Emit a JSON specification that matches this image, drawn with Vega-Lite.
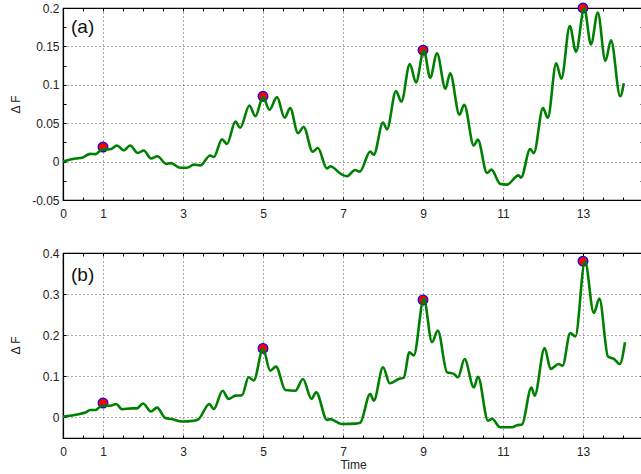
{
  "$schema": "https://vega.github.io/schema/vega-lite/v6.json",
  "padding": {"left": 8, "top": 0, "right": 0, "bottom": 0},
  "spacing": 26,
  "config": {
    "font": "Liberation Sans",
    "view": {"stroke": "#000", "strokeWidth": 1.2},
    "axis": {
      "labelFont": "Liberation Sans",
      "labelFontSize": 12,
      "labelColor": "#222",
      "titleFont": "Liberation Sans",
      "titleFontSize": 12,
      "titleFontWeight": "normal",
      "titleColor": "#222",
      "domainColor": "#000",
      "domainWidth": 1.2,
      "tickColor": "#000",
      "tickSize": -3,
      "tickWidth": 1,
      "gridWidth": 1,
      "gridDash": [1, 3]
    }
  },
  "datasets": {
    "a_line": [
      {"t": 0, "v": 0}, {"t": 0.31, "v": 0.004}, {"t": 0.475, "v": 0.005}, {"t": 0.68, "v": 0.01}, {"t": 0.81, "v": 0.0097},
      {"t": 0.975, "v": 0.0156}, {"t": 1.18, "v": 0.016}, {"t": 1.35, "v": 0.021}, {"t": 1.52, "v": 0.0145}, {"t": 1.68, "v": 0.021},
      {"t": 1.87, "v": 0.0112}, {"t": 2.02, "v": 0.0145}, {"t": 2.2, "v": 0.004}, {"t": 2.36, "v": 0.007}, {"t": 2.58, "v": -0.003},
      {"t": 2.7, "v": -0.002}, {"t": 2.93, "v": -0.008}, {"t": 3.1, "v": -0.008}, {"t": 3.27, "v": -0.004}, {"t": 3.43, "v": -0.005},
      {"t": 3.68, "v": 0.008}, {"t": 3.77, "v": 0.006}, {"t": 3.975, "v": 0.029}, {"t": 4.1, "v": 0.023}, {"t": 4.31, "v": 0.052},
      {"t": 4.43, "v": 0.044}, {"t": 4.66, "v": 0.073}, {"t": 4.81, "v": 0.059}, {"t": 5.0, "v": 0.084}, {"t": 5.16, "v": 0.0675},
      {"t": 5.35, "v": 0.084}, {"t": 5.54, "v": 0.057}, {"t": 5.68, "v": 0.0696}, {"t": 5.875, "v": 0.037}, {"t": 6.017, "v": 0.045},
      {"t": 6.24, "v": 0.013}, {"t": 6.37, "v": 0.0177}, {"t": 6.6, "v": -0.009}, {"t": 6.68, "v": -0.006}, {"t": 6.975, "v": -0.017},
      {"t": 7.1, "v": -0.019}, {"t": 7.3, "v": -0.011}, {"t": 7.42, "v": -0.013}, {"t": 7.68, "v": 0.013}, {"t": 7.77, "v": 0.009},
      {"t": 8.0, "v": 0.051}, {"t": 8.1, "v": 0.042}, {"t": 8.325, "v": 0.092}, {"t": 8.46, "v": 0.078}, {"t": 8.67, "v": 0.127},
      {"t": 8.825, "v": 0.103}, {"t": 9.02, "v": 0.145}, {"t": 9.18, "v": 0.109}, {"t": 9.35, "v": 0.141}, {"t": 9.56, "v": 0.095},
      {"t": 9.68, "v": 0.115}, {"t": 9.91, "v": 0.061}, {"t": 10.03, "v": 0.074}, {"t": 10.27, "v": 0.021}, {"t": 10.37, "v": 0.0286},
      {"t": 10.6, "v": -0.0148}, {"t": 10.71, "v": -0.0104}, {"t": 10.93, "v": -0.029}, {"t": 11.1, "v": -0.03}, {"t": 11.39, "v": -0.018},
      {"t": 11.45, "v": -0.021}, {"t": 11.68, "v": 0.0164}, {"t": 11.77, "v": 0.011}, {"t": 12.0, "v": 0.0696}, {"t": 12.12, "v": 0.057},
      {"t": 12.33, "v": 0.128}, {"t": 12.46, "v": 0.108}, {"t": 12.67, "v": 0.1766}, {"t": 12.825, "v": 0.143}, {"t": 13.03, "v": 0.1995},
      {"t": 13.2, "v": 0.1527}, {"t": 13.37, "v": 0.194}, {"t": 13.56, "v": 0.131}, {"t": 13.7, "v": 0.158}, {"t": 13.93, "v": 0.085},
      {"t": 14.02, "v": 0.102}
    ],
    "b_line": [
      {"t": 0, "v": 0.002}, {"t": 0.39, "v": 0.008}, {"t": 0.56, "v": 0.012}, {"t": 0.68, "v": 0.018}, {"t": 0.81, "v": 0.018},
      {"t": 0.975, "v": 0.0285}, {"t": 1.18, "v": 0.0285}, {"t": 1.33, "v": 0.0326}, {"t": 1.475, "v": 0.02}, {"t": 1.725, "v": 0.022},
      {"t": 1.85, "v": 0.022}, {"t": 2.0, "v": 0.034}, {"t": 2.2, "v": 0.0146}, {"t": 2.35, "v": 0.024}, {"t": 2.56, "v": -0.0015},
      {"t": 2.725, "v": -0.004}, {"t": 2.975, "v": -0.01}, {"t": 3.27, "v": -0.008}, {"t": 3.39, "v": -0.004}, {"t": 3.66, "v": 0.0326},
      {"t": 3.77, "v": 0.0204}, {"t": 3.99, "v": 0.065}, {"t": 4.14, "v": 0.045}, {"t": 4.31, "v": 0.053}, {"t": 4.475, "v": 0.054},
      {"t": 4.64, "v": 0.0976}, {"t": 4.77, "v": 0.09}, {"t": 5.0, "v": 0.167}, {"t": 5.18, "v": 0.114}, {"t": 5.325, "v": 0.1237},
      {"t": 5.56, "v": 0.0668}, {"t": 5.81, "v": 0.065}, {"t": 6.0, "v": 0.0935}, {"t": 6.21, "v": 0.045}, {"t": 6.33, "v": 0.061},
      {"t": 6.6, "v": -0.006}, {"t": 6.68, "v": -0.004}, {"t": 6.975, "v": -0.016}, {"t": 7.31, "v": -0.015}, {"t": 7.43, "v": -0.013},
      {"t": 7.68, "v": 0.057}, {"t": 7.77, "v": 0.041}, {"t": 8.0, "v": 0.122}, {"t": 8.17, "v": 0.083}, {"t": 8.39, "v": 0.0935},
      {"t": 8.52, "v": 0.097}, {"t": 8.66, "v": 0.1585}, {"t": 8.77, "v": 0.151}, {"t": 9.02, "v": 0.289}, {"t": 9.225, "v": 0.183},
      {"t": 9.37, "v": 0.2114}, {"t": 9.6, "v": 0.11}, {"t": 9.77, "v": 0.106}, {"t": 9.875, "v": 0.0976}, {"t": 10.04, "v": 0.142},
      {"t": 10.27, "v": 0.073}, {"t": 10.375, "v": 0.099}, {"t": 10.625, "v": -0.008}, {"t": 10.725, "v": -0.003}, {"t": 10.93, "v": -0.024},
      {"t": 11.225, "v": -0.024}, {"t": 11.35, "v": -0.019}, {"t": 11.475, "v": -0.017}, {"t": 11.71, "v": 0.073}, {"t": 11.79, "v": 0.053},
      {"t": 12.04, "v": 0.169}, {"t": 12.19, "v": 0.118}, {"t": 12.39, "v": 0.13}, {"t": 12.49, "v": 0.126}, {"t": 12.68, "v": 0.205},
      {"t": 12.81, "v": 0.197}, {"t": 13.05, "v": 0.38}, {"t": 13.27, "v": 0.254}, {"t": 13.41, "v": 0.289}, {"t": 13.625, "v": 0.148},
      {"t": 13.78, "v": 0.142}, {"t": 13.92, "v": 0.13}, {"t": 14.05, "v": 0.183}
    ],
    "a_pts": [{"t": 1, "v": 0.019}, {"t": 5, "v": 0.085}, {"t": 9, "v": 0.145}, {"t": 13, "v": 0.2}],
    "b_pts": [{"t": 1, "v": 0.035}, {"t": 5, "v": 0.168}, {"t": 9, "v": 0.286}, {"t": 13, "v": 0.38}],
    "a_lab": [{"t": 0.2, "v": 0.168, "label": "(a)"}],
    "b_lab": [{"t": 0.2, "v": 0.333, "label": "(b)"}]
  },
  "vconcat": [
    {
      "width": 580,
      "height": 192,
      "resolve": {"axis": {"x": "independent", "y": "independent"}},
      "layer": [
        {
          "data": {"name": "a_pts"},
          "mark": {"type": "point", "filled": true, "fill": "#ff0000", "stroke": "#0000ff", "strokeWidth": 1.2, "size": 95, "opacity": 1, "fillOpacity": 1},
          "encoding": {
            "x": {"field": "t", "type": "quantitative", "scale": {"domain": [0, 14.5], "nice": false, "zero": false},
              "axis": {"orient": "bottom", "title": null, "values": [0,0.5,1,1.5,2,2.5,3,3.5,4,4.5,5,5.5,6,6.5,7,7.5,8,8.5,9,9.5,10,10.5,11,11.5,12,12.5,13,13.5,14,14.5],
                "labelExpr": "(datum.value == 0 || datum.value % 2 == 1) ? toString(datum.value) : ''", "labelPadding": 11, "labelFlush": false,
                "grid": true, "gridColor": {"condition": {"test": "datum.value % 2 == 1", "value": "#555"}, "value": "transparent"}}},
            "y": {"field": "v", "type": "quantitative", "scale": {"domain": [-0.05, 0.2], "nice": false, "zero": false},
              "axis": {"orient": "left", "title": "Δ F", "titleX": -41, "titleY": 96, "values": [-0.05,-0.025,0,0.025,0.05,0.075,0.1,0.125,0.15,0.175,0.2],
                "labelExpr": "abs(datum.value*20 - round(datum.value*20)) < 0.001 ? toString(datum.value) : ''", "labelPadding": 7,
                "grid": true, "gridColor": {"condition": {"test": "abs(datum.value*20 - round(datum.value*20)) < 0.001 && datum.value > -0.04 && datum.value < 0.19", "value": "#555"}, "value": "transparent"}}}
          }
        },
        {
          "data": {"name": "a_line"},
          "mark": {"type": "line", "color": "#008000", "strokeWidth": 2.6, "interpolate": "monotone"},
          "encoding": {
            "x": {"field": "t", "type": "quantitative", "axis": {"orient": "top", "title": null, "labels": false, "grid": false,
              "values": [0,0.5,1,1.5,2,2.5,3,3.5,4,4.5,5,5.5,6,6.5,7,7.5,8,8.5,9,9.5,10,10.5,11,11.5,12,12.5,13,13.5,14,14.5]}},
            "y": {"field": "v", "type": "quantitative", "axis": {"orient": "right", "title": null, "labels": false, "grid": false,
              "values": [-0.05,-0.025,0,0.025,0.05,0.075,0.1,0.125,0.15,0.175,0.2]}}
          }
        },
        {
          "data": {"name": "a_lab"},
          "mark": {"type": "text", "align": "left", "baseline": "alphabetic", "fontSize": 19, "font": "Liberation Sans", "color": "#111"},
          "encoding": {
            "x": {"field": "t", "type": "quantitative", "axis": null},
            "y": {"field": "v", "type": "quantitative", "axis": null},
            "text": {"field": "label"}
          }
        }
      ]
    },
    {
      "width": 580,
      "height": 185,
      "resolve": {"axis": {"x": "independent", "y": "independent"}},
      "layer": [
        {
          "data": {"name": "b_pts"},
          "mark": {"type": "point", "filled": true, "fill": "#ff0000", "stroke": "#0000ff", "strokeWidth": 1.2, "size": 95, "opacity": 1, "fillOpacity": 1},
          "encoding": {
            "x": {"field": "t", "type": "quantitative", "scale": {"domain": [0, 14.5], "nice": false, "zero": false},
              "axis": {"orient": "bottom", "title": "Time", "titlePadding": 2, "values": [0,0.5,1,1.5,2,2.5,3,3.5,4,4.5,5,5.5,6,6.5,7,7.5,8,8.5,9,9.5,10,10.5,11,11.5,12,12.5,13,13.5,14,14.5],
                "labelExpr": "(datum.value == 0 || datum.value % 2 == 1) ? toString(datum.value) : ''", "labelPadding": 11, "labelFlush": false,
                "grid": true, "gridColor": {"condition": {"test": "datum.value % 2 == 1", "value": "#555"}, "value": "transparent"}}},
            "y": {"field": "v", "type": "quantitative", "scale": {"domain": [-0.05, 0.4], "nice": false, "zero": false},
              "axis": {"orient": "left", "title": "Δ F", "titleX": -41, "titleY": 92, "values": [0, 0.1, 0.2, 0.3, 0.4],
                "labelExpr": "toString(datum.value)", "labelPadding": 7,
                "grid": true, "gridColor": {"condition": {"test": "datum.value < 0.39", "value": "#555"}, "value": "transparent"}}}
          }
        },
        {
          "data": {"name": "b_line"},
          "mark": {"type": "line", "color": "#008000", "strokeWidth": 2.6, "interpolate": "monotone"},
          "encoding": {
            "x": {"field": "t", "type": "quantitative", "axis": {"orient": "top", "title": null, "labels": false, "grid": false,
              "values": [0,0.5,1,1.5,2,2.5,3,3.5,4,4.5,5,5.5,6,6.5,7,7.5,8,8.5,9,9.5,10,10.5,11,11.5,12,12.5,13,13.5,14,14.5]}},
            "y": {"field": "v", "type": "quantitative", "axis": {"orient": "right", "title": null, "labels": false, "grid": false,
              "values": [0, 0.1, 0.2, 0.3, 0.4]}}
          }
        },
        {
          "data": {"name": "b_lab"},
          "mark": {"type": "text", "align": "left", "baseline": "alphabetic", "fontSize": 19, "font": "Liberation Sans", "color": "#111"},
          "encoding": {
            "x": {"field": "t", "type": "quantitative", "axis": null},
            "y": {"field": "v", "type": "quantitative", "axis": null},
            "text": {"field": "label"}
          }
        }
      ]
    }
  ]
}
